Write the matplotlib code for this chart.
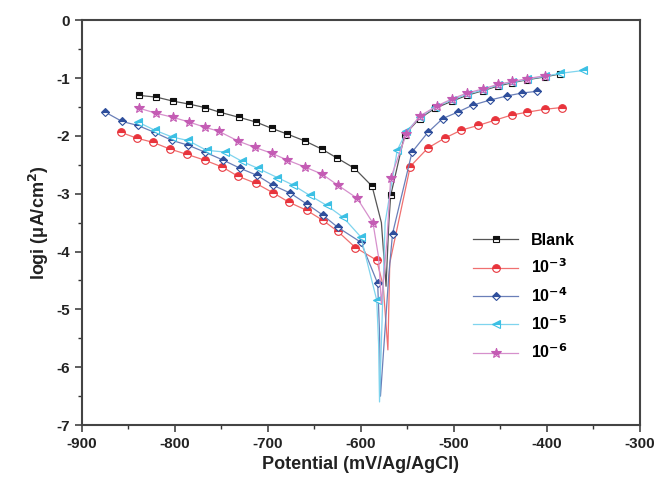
import matplotlib
matplotlib.use("Agg")
import matplotlib.pyplot as plt
from matplotlib.ticker import MultipleLocator

plt.rcParams['font.family'] = ['Liberation Sans', 'DejaVu Sans']
plt.rcParams['font.weight'] = 'bold'
plt.rcParams['axes.unicode_minus'] = False

# polarisation curves: cathodic markers, bend into Ecorr, anodic markers
blank_cath_E = [-839, -820, -802, -785, -768, -752, -731, -713, -696, -679, -660, -642, -626, -607, -588]
blank_cath_i = [-1.30, -1.33, -1.40, -1.45, -1.51, -1.59, -1.68, -1.76, -1.87, -1.97, -2.09, -2.23, -2.38, -2.56, -2.87]
blank_bend_E = [-578, -573, -570]
blank_bend_i = [-3.5, -4.6, -3.5]
blank_anod_E = [-568, -553, -537, -520, -502, -486, -469, -453, -437, -421, -402, -386]
blank_anod_i = [-3.03, -1.98, -1.70, -1.52, -1.40, -1.30, -1.22, -1.14, -1.08, -1.03, -0.98, -0.93]

c3_cath_E = [-858, -841, -824, -805, -787, -768, -749, -732, -713, -695, -677, -658, -641, -625, -606, -583]
c3_cath_i = [-1.94, -2.04, -2.11, -2.23, -2.32, -2.42, -2.54, -2.70, -2.82, -2.98, -3.15, -3.29, -3.46, -3.65, -3.93, -4.15]
c3_bend_E = [-576, -571, -569]
c3_bend_i = [-4.6, -5.7, -4.2]
c3_anod_E = [-547, -528, -510, -492, -474, -456, -438, -421, -402, -384]
c3_anod_i = [-2.53, -2.21, -2.04, -1.90, -1.82, -1.73, -1.64, -1.59, -1.54, -1.51]

c4_cath_E = [-875, -857, -840, -822, -803, -786, -768, -748, -730, -712, -695, -676, -658, -641, -625, -600, -582]
c4_cath_i = [-1.59, -1.75, -1.82, -1.94, -2.08, -2.16, -2.28, -2.42, -2.56, -2.68, -2.85, -2.99, -3.18, -3.37, -3.58, -3.84, -4.55]
c4_bend_E = [-580, -579, -570]
c4_bend_i = [-5.4, -6.5, -4.4]
c4_anod_E = [-566, -545, -528, -512, -496, -480, -461, -443, -427, -411]
c4_anod_i = [-3.69, -2.28, -1.94, -1.70, -1.59, -1.47, -1.38, -1.31, -1.26, -1.23]

c5_cath_E = [-840, -822, -803, -786, -766, -746, -728, -711, -690, -673, -655, -637, -619, -600, -583]
c5_cath_i = [-1.76, -1.90, -2.02, -2.08, -2.25, -2.28, -2.44, -2.56, -2.72, -2.85, -3.03, -3.20, -3.41, -3.75, -4.84]
c5_bend_E = [-581, -580, -574]
c5_bend_i = [-5.6, -6.6, -3.5]
c5_anod_E = [-561, -551, -537, -520, -502, -486, -469, -453, -437, -421, -402, -386, -361]
c5_anod_i = [-2.25, -1.92, -1.68, -1.50, -1.38, -1.28, -1.21, -1.12, -1.07, -1.02, -0.97, -0.92, -0.87]

c6_cath_E = [-839, -820, -802, -785, -768, -753, -732, -714, -696, -679, -660, -642, -625, -604, -587]
c6_cath_i = [-1.52, -1.61, -1.68, -1.76, -1.85, -1.92, -2.09, -2.20, -2.30, -2.42, -2.54, -2.66, -2.85, -3.08, -3.51]
c6_bend_E = [-581, -578, -572]
c6_bend_i = [-4.1, -4.9, -3.8]
c6_anod_E = [-568, -551, -537, -518, -502, -486, -469, -453, -437, -421, -402]
c6_anod_i = [-2.73, -1.96, -1.66, -1.48, -1.36, -1.26, -1.19, -1.11, -1.06, -1.01, -0.96]

labels = ['Blank', '10$^{-3}$', '10$^{-4}$', '10$^{-5}$', '10$^{-6}$']

series = [
    (blank_cath_E, blank_cath_i, blank_bend_E, blank_bend_i, blank_anod_E, blank_anod_i),
    (c3_cath_E, c3_cath_i, c3_bend_E, c3_bend_i, c3_anod_E, c3_anod_i),
    (c4_cath_E, c4_cath_i, c4_bend_E, c4_bend_i, c4_anod_E, c4_anod_i),
    (c5_cath_E, c5_cath_i, c5_bend_E, c5_bend_i, c5_anod_E, c5_anod_i),
    (c6_cath_E, c6_cath_i, c6_bend_E, c6_bend_i, c6_anod_E, c6_anod_i),
]
marker_colors = ['#111111', '#e8343c', '#2f4f9c', '#3cc0e4', '#c45cb4']
line_colors = ['#555555', '#f07070', '#6a7fb8', '#7fd4ee', '#d690cc']
markers = ['s', 'o', 'D', '<', '*']
msizes = [5, 5.5, 4.5, 5.5, 7]

fig = plt.figure(figsize=(6.59, 4.92), dpi=100)
ax = fig.add_axes([0.1244, 0.136, 0.8466, 0.823])

for (cE, ci, bE, bi, aE, ai), lab, mc, lc, mk, ms in zip(series, labels, marker_colors, line_colors, markers, msizes):
    E = cE + bE + aE
    i = ci + bi + ai
    marked = list(range(len(cE))) + list(range(len(cE) + len(bE), len(E)))
    ax.plot(E, i, color=lc, lw=0.9, marker=mk, markersize=ms, markevery=marked,
            markerfacecolor=mc, markerfacecoloralt='white', fillstyle='top',
            markeredgecolor=mc, markeredgewidth=0.8, label=lab)

ax.set_xlim(-900, -300)
ax.set_ylim(-7, 0)
ax.xaxis.set_major_locator(MultipleLocator(100))
ax.xaxis.set_minor_locator(MultipleLocator(50))
ax.yaxis.set_major_locator(MultipleLocator(1))
ax.yaxis.set_minor_locator(MultipleLocator(0.5))
ax.tick_params(which='major', direction='out', length=5, width=1.1, labelsize=11, colors='#333333', labelcolor='#222222')
ax.tick_params(which='minor', direction='out', length=3, width=1.0, colors='#333333')
for s in ax.spines.values():
    s.set_linewidth(1.5)
    s.set_color('#444444')
for t in ax.get_xticklabels() + ax.get_yticklabels():
    t.set_fontweight('bold')

ax.set_xlabel('Potential (mV/Ag/AgCl)', fontsize=13, fontweight='bold', color='#222222')
ax.set_ylabel('logi (μA/cm$^2$)', fontsize=13, fontweight='bold', color='#222222')

leg = ax.legend(loc='upper left', bbox_to_anchor=(0.69, 0.49), frameon=False,
                fontsize=11.5, handlelength=2.8, labelspacing=0.6, borderaxespad=0)
for t in leg.get_texts():
    t.set_fontweight('bold')

fig.savefig('out.png', dpi=100)
